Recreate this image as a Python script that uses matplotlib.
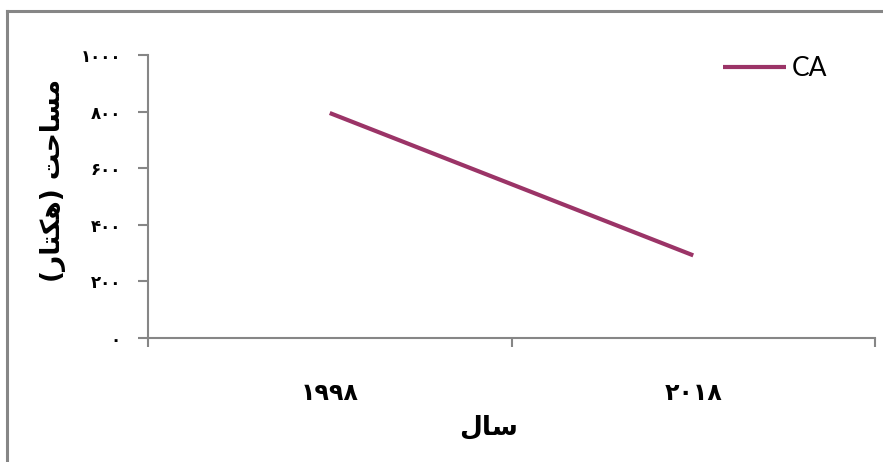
import matplotlib
matplotlib.use("Agg")
import matplotlib.pyplot as plt
from matplotlib.lines import Line2D

# Data
categories = ["۱۹۹۸", "۲۰۱۸"]
series_name = "CA"
values = [795, 292]
yticks = [0, 200, 400, 600, 800, 1000]
ytick_labels = ["۰", "۲۰۰", "۴۰۰", "۶۰۰", "۸۰۰", "۱۰۰۰"]
# Persian labels, pre-shaped in visual order (matplotlib has no bidi/shaping)
ylabel = "(ﺭﺎﺘﮑﻫ) ﺖﺣﺎﺴﻣ"
xlabel = "ﻝﺎﺳ"

W, H = 883, 462
fig = plt.figure(figsize=(W / 100, H / 100), dpi=100)
fig.patch.set_facecolor("white")

# outer chart border (top & left visible)
border = "#868686"
fig.add_artist(Line2D([7 / W, 7 / W], [0, 1 - 11 / H], transform=fig.transFigure, color=border, lw=2.2))
fig.add_artist(Line2D([7 / W, 1], [1 - 11 / H, 1 - 11 / H], transform=fig.transFigure, color=border, lw=2.2))

AW = 875 - 148
ax = fig.add_axes([148 / W, 1 - 338 / H, AW / W, (338 - 55) / H])
x = list(range(len(categories)))
line_color = "#9B3467"
ax.plot(x, values, color=line_color, lw=3.0, solid_capstyle="butt", label=series_name)

ax.set_xlim(-0.5, len(categories) - 0.5)
ax.set_ylim(0, 1000)
for s in ["top", "right"]:
    ax.spines[s].set_visible(False)
axc = "#868686"
ax.spines["left"].set_color(axc)
ax.spines["bottom"].set_color(axc)
ax.spines["left"].set_linewidth(1.5)
ax.spines["bottom"].set_linewidth(1.5)

ax.set_yticks(yticks)
ax.set_yticklabels(ytick_labels, fontfamily="DejaVu Sans", fontweight="bold", fontsize=12)
ax.tick_params(axis="y", length=7.5, width=1.5, color=axc, pad=12)

ax.set_xticks([i - 0.5 for i in range(len(categories) + 1)])
ax.set_xticklabels([])
ax.tick_params(axis="x", which="major", length=6.5, width=1.5, color=axc)
ax.set_xticks(x, minor=True)
ax.set_xticklabels(categories, minor=True, fontfamily="DejaVu Sans", fontweight="bold", fontsize=17)
ax.tick_params(axis="x", which="minor", length=0, pad=31)

ax.set_ylabel(ylabel, fontfamily="DejaVu Sans", fontweight="bold", fontsize=19)
ax.yaxis.set_label_coords((66 - 148) / AW, (338 - 180) / 283)
ax.set_xlabel(xlabel, fontfamily="DejaVu Sans", fontweight="bold", fontsize=19, labelpad=4)
ax.xaxis.set_label_coords((489 - 148) / AW, -0.27)

leg = ax.legend(loc="upper left", bbox_to_anchor=(551 / AW, 1.08), frameon=False,
                prop={"family": "Lato", "size": 19}, handlelength=2.4, handletextpad=0.2)

fig.savefig("out.png", dpi=100, facecolor="white")
